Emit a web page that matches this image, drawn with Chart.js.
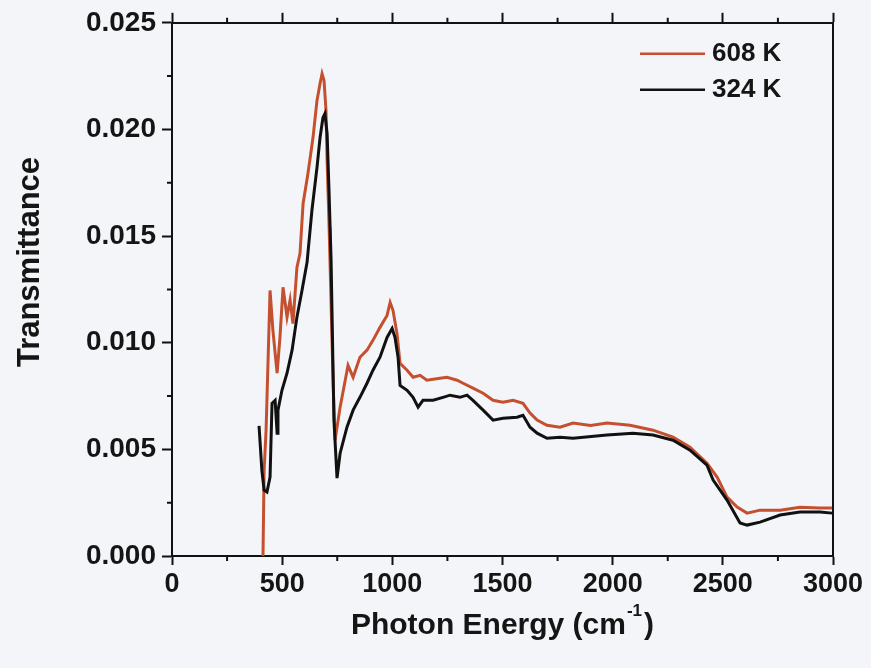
<!DOCTYPE html>
<html>
<head>
<meta charset="utf-8">
<script src="https://cdn.jsdelivr.net/npm/chart.js@4.4.1/dist/chart.umd.min.js"></script>
<style>
    html, body { margin: 0; padding: 0; background: #f4f5f8; }
    #wrap { width: 871px; height: 668px; }
</style>
</head>
<body>
<div id="wrap"><canvas id="chart" width="871" height="668"></canvas></div>
<script>
// 608 K spectrum (photon energy in cm-1, transmittance)
const energy608 = [413, 418, 427, 445, 458, 477, 490, 504, 522, 536, 549, 567, 581, 595, 617, 640, 658, 672, 681, 690, 699, 704, 713, 717, 731, 740,
    763, 799, 822, 853, 885, 912, 944, 976, 990, 1003, 1021, 1035, 1067, 1094, 1126, 1157, 1216, 1248, 1294, 1321, 1366, 1412, 1457, 1502,
    1548, 1593, 1625, 1657, 1702, 1761, 1820, 1900, 1974, 2079, 2183, 2274, 2351, 2428, 2474, 2519, 2565, 2610, 2669, 2760, 2850, 2941, 2996];
const trans608 = [0.0000, 0.0040, 0.0059, 0.01245, 0.01058, 0.00857, 0.01025, 0.0126, 0.0112, 0.0120, 0.0109, 0.01353, 0.01419, 0.01653,
    0.01793, 0.01962, 0.02135, 0.02215, 0.02261, 0.02229, 0.02088, 0.01854, 0.0154, 0.01386, 0.00824, 0.00543,
    0.00698, 0.00894, 0.00838, 0.00932, 0.00965, 0.01011, 0.01072, 0.01128, 0.01189, 0.01152, 0.01044, 0.00904, 0.00871, 0.00838, 0.00847,
    0.00824, 0.00833, 0.00838, 0.00824, 0.0081, 0.00787, 0.00763, 0.0073, 0.00721,
    0.0073, 0.00716, 0.0067, 0.00637, 0.00613, 0.00604, 0.00623, 0.00612, 0.00623, 0.00613, 0.0059, 0.00557, 0.0051, 0.00435, 0.0037,
    0.00276, 0.00229, 0.00201, 0.00215, 0.00215, 0.00229, 0.00225, 0.00225];

// 324 K spectrum
const energy324 = [395, 408, 418, 431, 445, 454, 468, 477, 481, 499, 522, 545, 567, 590, 613, 635, 658, 672, 685, 694, 704, 713, 722, 735, 749,
    763, 794, 822, 853, 885, 912, 944, 976, 999, 1012, 1026, 1035, 1067, 1094, 1117, 1139, 1185, 1230, 1262, 1307, 1339, 1366, 1412, 1457,
    1502, 1566, 1593, 1625, 1657, 1702, 1761, 1820, 1974, 2092, 2183, 2274, 2351, 2428, 2456, 2519, 2578, 2610, 2669, 2760, 2850, 2941, 2996];
const trans324 = [0.0061, 0.0040, 0.00309, 0.0030, 0.0037, 0.00716, 0.0073, 0.00576, 0.00684, 0.00777, 0.00857, 0.00965, 0.0112, 0.01245,
    0.01377, 0.0162, 0.01821, 0.01962, 0.02055, 0.02074, 0.0198, 0.017, 0.01386, 0.00637, 0.00365,
    0.00482, 0.00604, 0.00684, 0.00744, 0.0081, 0.00871, 0.00932, 0.01025, 0.01067, 0.01025, 0.00932, 0.0080, 0.00777, 0.00744, 0.00698,
    0.0073, 0.0073, 0.00744, 0.00754, 0.00744, 0.00754, 0.0073, 0.00684, 0.00637,
    0.00646, 0.00651, 0.0066, 0.00604, 0.00576, 0.00552, 0.00557, 0.00552, 0.00567, 0.00576, 0.00567, 0.00543, 0.00496, 0.00426, 0.00356,
    0.00262, 0.00155, 0.00145, 0.00159, 0.00192, 0.00206, 0.00206, 0.00201];

const xMajorTicks = [0, 500, 1000, 1500, 2000, 2500, 3000];
const yMajorTicks = [0.000, 0.005, 0.010, 0.015, 0.020, 0.025];

const RED = '#c4502f';
const BLACK = '#111111';
const FONT = '"Liberation Sans", Arial, sans-serif';

function toPoints(xs, ys) {
    return xs.map((x, i) => ({ x: x, y: ys[i] }));
}

// outward minor ticks, legend and axis titles
const decorPlugin = {
    id: 'decor',
    afterDraw(chart) {
        const { ctx, chartArea: a, scales } = chart;
        ctx.save();
        ctx.strokeStyle = BLACK;
        ctx.lineWidth = 2;
        ctx.beginPath();
        for (let i = 0; i < xMajorTicks.length - 1; i++) {
            const px = scales.x.getPixelForValue((xMajorTicks[i] + xMajorTicks[i + 1]) / 2);
            ctx.moveTo(px, a.bottom); ctx.lineTo(px, a.bottom + 5);
            ctx.moveTo(px, a.top); ctx.lineTo(px, a.top - 5);
        }
        for (let i = 0; i < yMajorTicks.length - 1; i++) {
            const py = scales.y.getPixelForValue((yMajorTicks[i] + yMajorTicks[i + 1]) / 2);
            ctx.moveTo(a.left, py); ctx.lineTo(a.left - 5, py);
        }
        ctx.stroke();

        // legend
        const items = [{ label: '608 K', color: RED }, { label: '324 K', color: BLACK }];
        ctx.font = 'bold 26px ' + FONT;
        ctx.textBaseline = 'middle';
        ctx.textAlign = 'left';
        items.forEach((it, i) => {
            const y = a.top + 31 + i * 36;
            ctx.strokeStyle = it.color;
            ctx.lineWidth = 2.5;
            ctx.beginPath();
            ctx.moveTo(a.right - 193, y); ctx.lineTo(a.right - 128, y);
            ctx.stroke();
            ctx.fillStyle = '#151515';
            ctx.fillText(it.label, a.right - 121, y);
        });

        // x title with superscript
        ctx.fillStyle = '#151515';
        const main = 'Photon Energy (cm';
        const sup = '-1';
        const close = ')';
        ctx.font = 'bold 30px ' + FONT;
        const wMain = ctx.measureText(main).width;
        const wClose = ctx.measureText(close).width;
        ctx.font = 'bold 17px ' + FONT;
        const wSup = ctx.measureText(sup).width;
        const total = wMain + wSup + wClose + 3;
        const x0 = (a.left + a.right) / 2 - total / 2;
        const yT = 626;
        ctx.font = 'bold 30px ' + FONT;
        ctx.fillText(main, x0, yT);
        ctx.font = 'bold 17px ' + FONT;
        ctx.fillText(sup, x0 + wMain + 1, yT - 15);
        ctx.font = 'bold 30px ' + FONT;
        ctx.fillText(close, x0 + wMain + wSup + 3, yT);

        // y title
        ctx.translate(30, 262);
        ctx.rotate(-Math.PI / 2);
        ctx.textAlign = 'center';
        ctx.font = 'bold 31px ' + FONT;
        ctx.fillText('Transmittance', 0, 0);
        ctx.restore();
    }
};

const ctx = document.getElementById('chart').getContext('2d');
new Chart(ctx, {
    type: 'line',
    data: {
        datasets: [{
            label: '608 K',
            data: toPoints(energy608, trans608),
            borderColor: RED,
            borderWidth: 3,
            pointRadius: 0,
            tension: 0,
            order: 2
        }, {
            label: '324 K',
            data: toPoints(energy324, trans324),
            borderColor: BLACK,
            borderWidth: 3,
            pointRadius: 0,
            tension: 0,
            order: 1
        }]
    },
    options: {
        responsive: false,
        animation: false,
        layout: { padding: 0 },
        plugins: {
            legend: { display: false },
            tooltip: { enabled: false }
        },
        scales: {
            x: {
                type: 'linear',
                position: 'bottom',
                min: 0, max: 3000,
                afterFit(s) { s.height = 112; },
                ticks: {
                    stepSize: 500,
                    color: '#151515',
                    padding: 3,
                    maxRotation: 0,
                    font: { family: FONT, size: 27, weight: 'bold' },
                    callback: v => String(v)
                },
                grid: { drawOnChartArea: false, tickLength: 9, tickColor: BLACK, tickWidth: 2 },
                border: { color: BLACK, width: 2 }
            },
            x2: {
                type: 'linear',
                position: 'top',
                min: 0, max: 3000,
                afterFit(s) { s.height = 22; },
                ticks: { stepSize: 500, display: false },
                grid: { drawOnChartArea: false, tickLength: 10, tickColor: BLACK, tickWidth: 2 },
                border: { color: BLACK, width: 2 }
            },
            y: {
                position: 'left',
                min: 0, max: 0.025,
                afterFit(s) { s.width = 172; },
                ticks: {
                    stepSize: 0.005,
                    color: '#151515',
                    padding: 6,
                    font: { family: FONT, size: 28, weight: 'bold' },
                    callback: v => v.toFixed(3)
                },
                grid: { drawOnChartArea: false, tickLength: 10, tickColor: BLACK, tickWidth: 2 },
                border: { color: BLACK, width: 2 }
            },
            y2: {
                position: 'right',
                min: 0, max: 0.025,
                afterFit(s) { s.width = 38; },
                ticks: { display: false },
                grid: { drawOnChartArea: false, drawTicks: false },
                border: { color: BLACK, width: 2 }
            }
        }
    },
    plugins: [decorPlugin]
});
</script>
</body>
</html>
